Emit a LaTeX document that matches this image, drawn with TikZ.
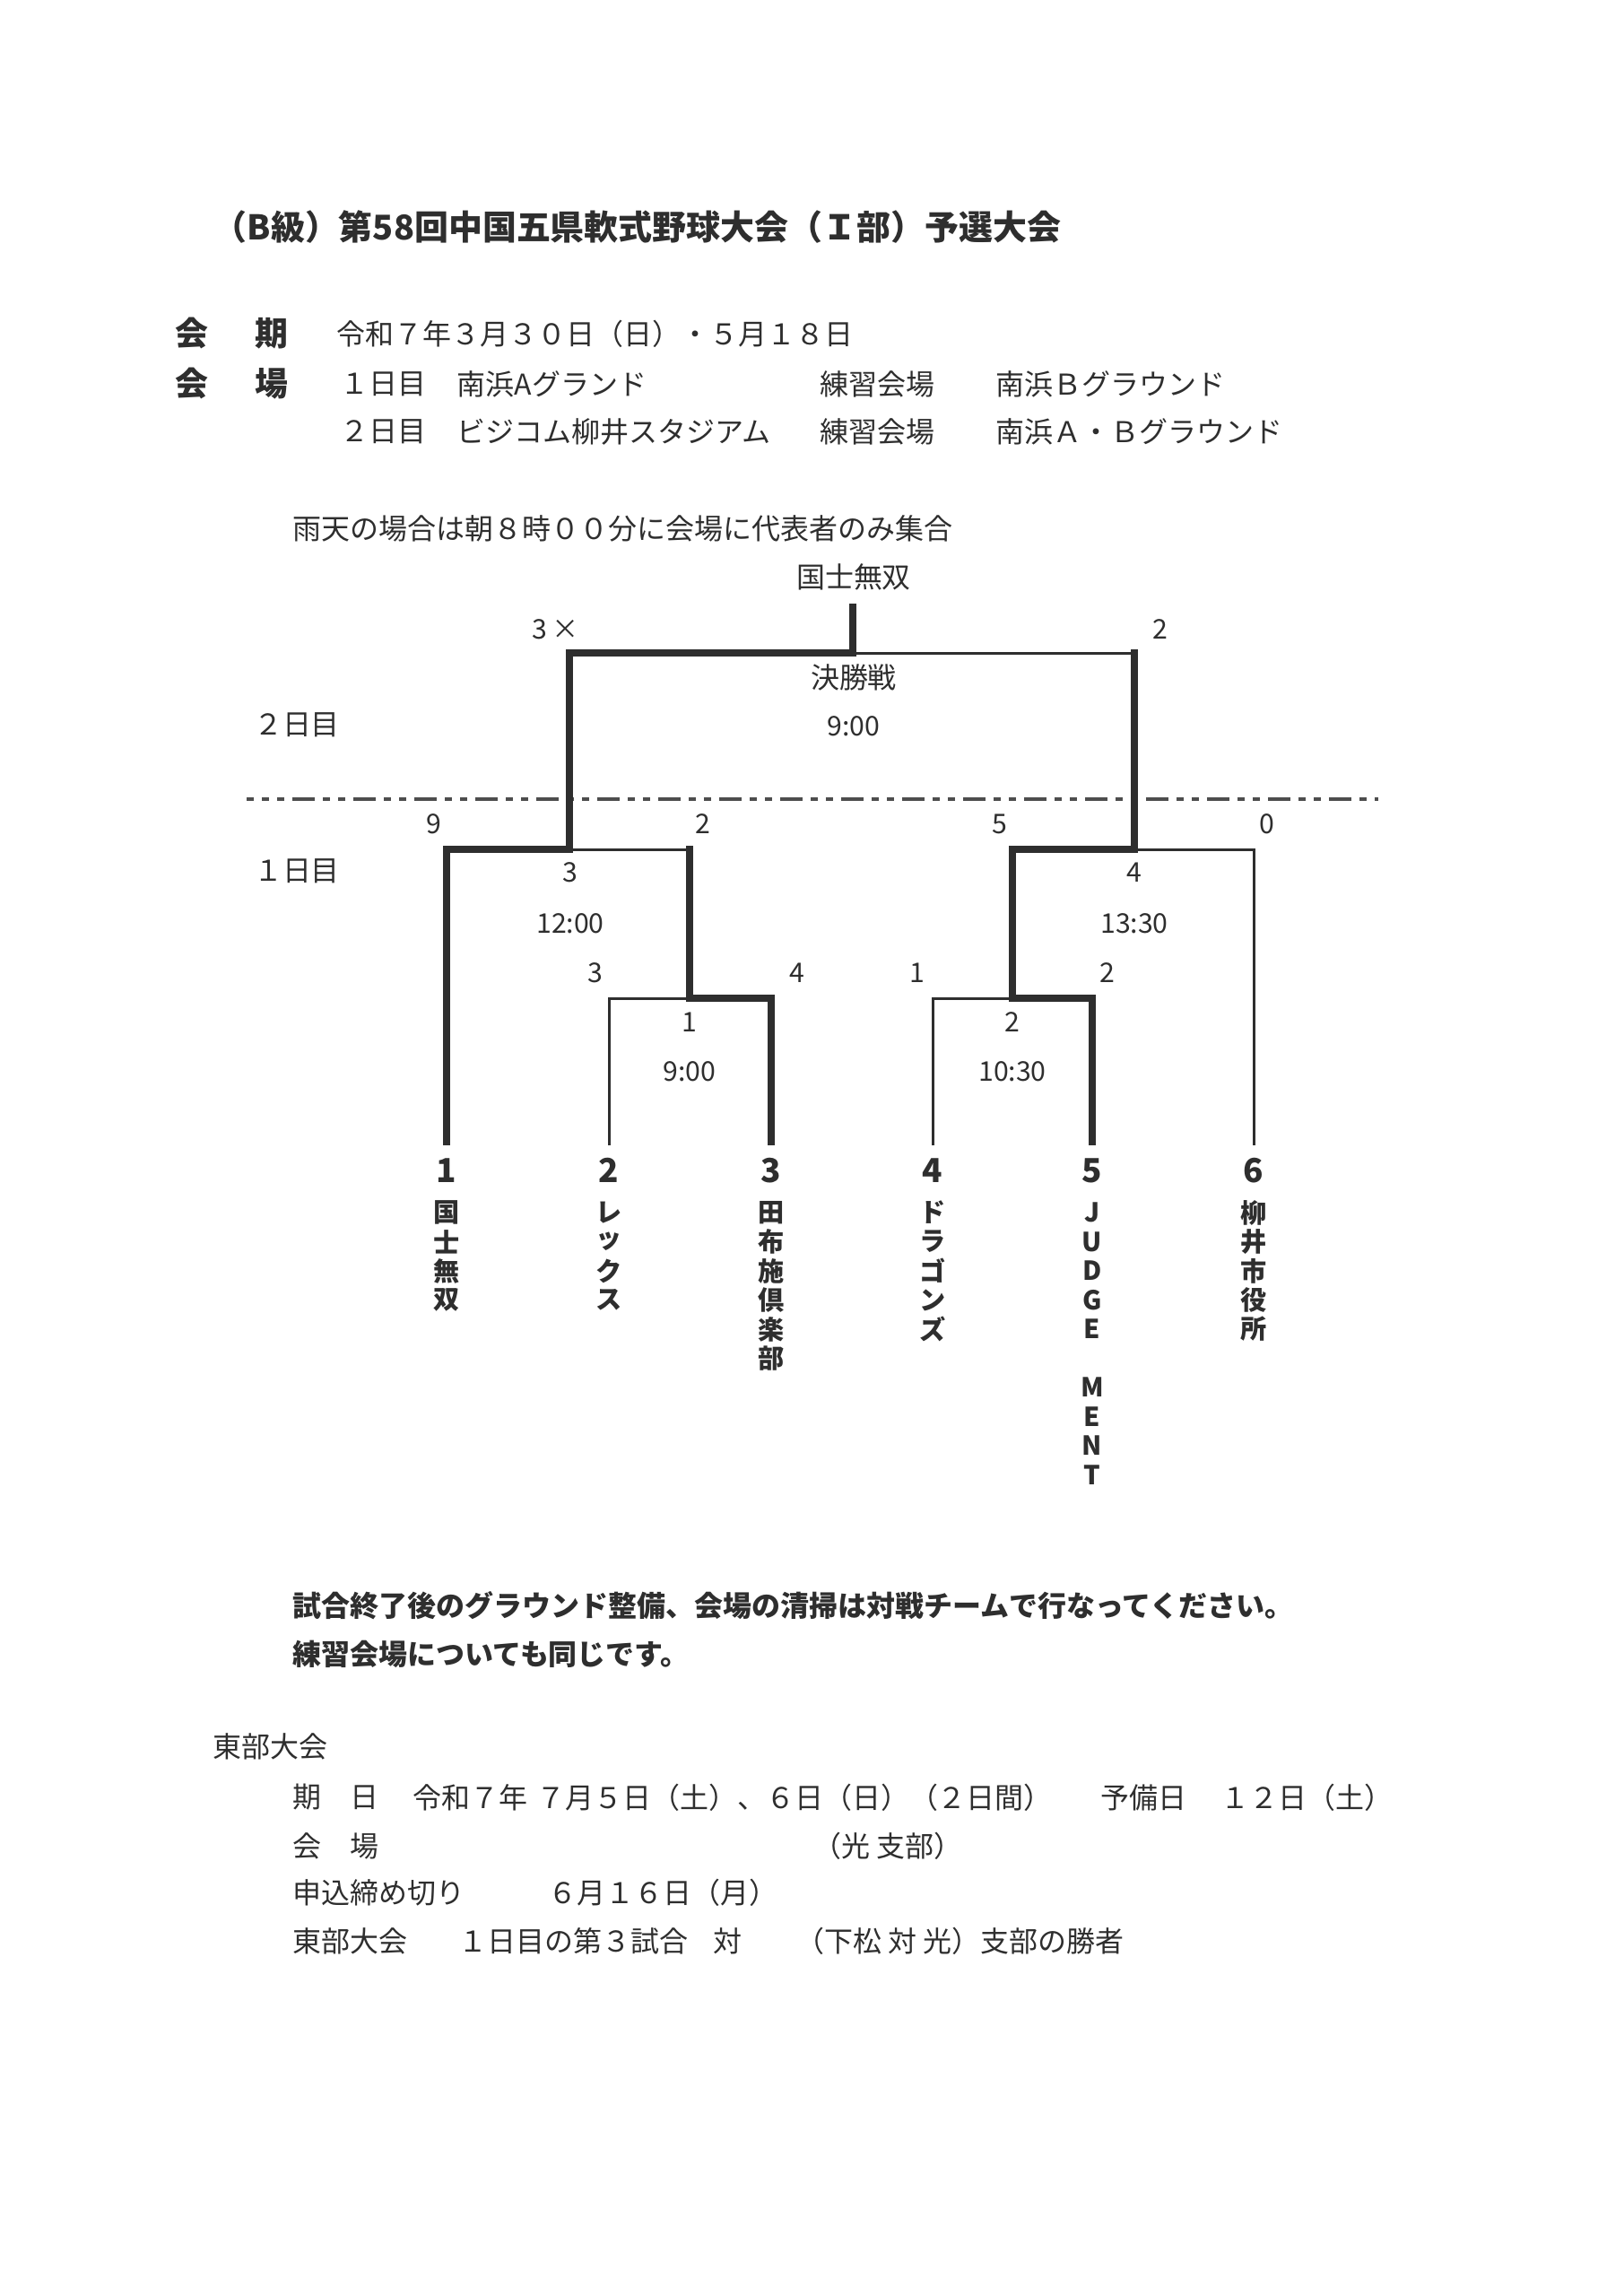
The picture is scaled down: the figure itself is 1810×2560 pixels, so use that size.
\documentclass[tikz,border=0pt]{standalone}
\usepackage{fontspec}
\setmainfont{Noto Sans CJK JP}
\definecolor{ink}{HTML}{2E2E2E}

\begin{document}
\begin{tikzpicture}[x=0.1mm, y=-0.1mm,
  every node/.style={inner sep=0pt, text=ink, font=\fontsize{9.1}{11}\selectfont},
  txt/.style={anchor=west},
  heading/.style={anchor=west, font=\fontsize{10.5}{12}\bfseries\selectfont},
  titletext/.style={anchor=west, font=\fontsize{10.8}{13}\bfseries\selectfont},
  notice/.style={anchor=west, font=\fontsize{9.1}{11}\bfseries\selectfont},
  score/.style={font=\fontsize{8.6}{10}\selectfont},
  teamno/.style={font=\fontsize{10.5}{12}\bfseries\selectfont},
  teamch/.style={font=\fontsize{8.3}{10}\bfseries\selectfont},
  winpath/.style={draw=ink, line width=0.8mm, line cap=rect},
  losspath/.style={draw=ink, line width=0.3mm},
  dayline/.style={draw=ink!85, line width=0.4mm, dash pattern=on 2.5mm off 0.9mm on 0.8mm off 0.9mm on 0.8mm off 0.9mm, dash phase=1.7mm}]
	\useasboundingbox (0,0) rectangle (1810,2560);
	\node[titletext] (title) at (237,253) {（B級）第58回中国五県軟式野球大会（Ｉ部）予選大会};
	\node[heading] (kaiki) at (195,372) {会\hspace{1.4em}期};
	\node[txt] (dates) at (375,372) {令和７年３月３０日（日）・５月１８日};
	\node[heading] (kaijo) at (195,428) {会\hspace{1.4em}場};
	\node[txt] (day1) at (379,428) {１日目};
	\node[txt] (venue1) at (509,428) {南浜Aグランド};
	\node[txt] (prac1) at (914,428) {練習会場};
	\node[txt] (pvenue1) at (1110,428) {南浜Ｂグラウンド};
	\node[txt] (day2) at (379,481) {２日目};
	\node[txt] (venue2) at (509,481) {ビジコム柳井スタジアム};
	\node[txt] (prac2) at (914,481) {練習会場};
	\node[txt] (pvenue2) at (1110,481) {南浜Ａ・Ｂグラウンド};
	\node[txt] (rain) at (326,589) {雨天の場合は朝８時００分に会場に代表者のみ集合};

	\coordinate (dl) at (275,891);
	\coordinate (dr) at (1537,891);
	\draw[dayline] (dl) -- (dr);
	\node (lday2) at (331,808) {２日目};
	\node (lday1) at (331,971) {１日目};

	\coordinate (b1) at (498,1273);
	\coordinate (b2) at (679,1277);
	\coordinate (b3) at (860,1273);
	\coordinate (b4) at (1040,1277);
	\coordinate (b5) at (1218,1273);
	\coordinate (b6) at (1398,1277);
	\coordinate (m1) at (769,1113);
	\coordinate (m2) at (1129,1113);
	\coordinate (m3) at (635,947);
	\coordinate (m4) at (1265,947);
	\coordinate (mf) at (951,728);
	\coordinate (champ) at (951,677);
	\draw[losspath] (b2) |- (m1);
	\draw[losspath] (b4) |- (m2);
	\draw[losspath] (m1 |- m3) -- (m3);
	\draw[losspath] (b6) |- (m4);
	\draw[losspath] (m4 |- mf) -- (mf);
	\draw[winpath] (b1) |- (m3) |- (mf) -- (champ);
	\draw[winpath] (b3) |- (m1) -- (m1 |- m3);
	\draw[winpath] (b5) |- (m2) |- (m4) -- (m4 |- mf);

	\node (winner) at (952,643) {国士無双};
	\node[score] (fsa) at (620,702) {3\,×};
	\node[score] (fsb) at (1294,702) {2};
	\node (fname) at (952,755) {決勝戦};
	\node[score] (ftime) at (952,810) {9:00};
	\node[score] (s3a) at (484,919) {9};
	\node[score] (s3b) at (784,919) {2};
	\node[score] (s4a) at (1115,919) {5};
	\node[score] (s4b) at (1413,919) {0};
	\node[score] (g3) at (636,973) {3};
	\node[score] (g3time) at (636,1030) {12:00};
	\node[score] (g4) at (1265,973) {4};
	\node[score] (g4time) at (1265,1030) {13:30};
	\node[score] (s1a) at (664,1085) {3};
	\node[score] (s1b) at (889,1085) {4};
	\node[score] (s2a) at (1023,1085) {1};
	\node[score] (s2b) at (1235,1085) {2};
	\node[score] (g1) at (769,1140) {1};
	\node[score] (g1time) at (769,1195) {9:00};
	\node[score] (g2) at (1129,1140) {2};
	\node[score] (g2time) at (1129,1195) {10:30};

	\foreach \i/\x/\chars in {1/498/{国,士,無,双}, 2/679/{レ,ッ,ク,ス}, 3/860/{田,布,施,倶,楽,部}, 4/1040/{ド,ラ,ゴ,ン,ズ}, 5/1218/{J,U,D,G,E,{},M,E,N,T}, 6/1398/{柳,井,市,役,所}} {
		\node[teamno] (t\i) at (\x,1305) {\i};
		\foreach \c [count=\k] in \chars
			\node[teamch] (t\i c\k) at (\x,1352+32.5*\k-32.5) {\c};
	}

	\node[notice] (note1) at (326,1790) {試合終了後のグラウンド整備、会場の清掃は対戦チームで行なってください。};
	\node[notice] (note2) at (326,1844) {練習会場についても同じです。};

	\node[txt] (east) at (237,1947) {東部大会};
	\node[txt] (ekiki) at (326,2004) {期　日};
	\node[txt] (edates) at (460,2004) {令和７年\hspace{0.3em}７月５日（土）、６日（日）（２日間）};
	\node[txt] (ereserve) at (1227,2004) {予備日};
	\node[txt] (ereserved) at (1361,2004) {１２日（土）};
	\node[txt] (ekaijo) at (326,2058) {会　場};
	\node[txt] (evenue) at (906,2058) {（光 支部）};
	\node[txt] (edead) at (326,2110) {申込締め切り};
	\node[txt] (edeadd) at (611,2110) {６月１６日（月）};
	\node[txt] (emeet) at (326,2164) {東部大会};
	\node[txt] (emeetg) at (511,2164) {１日目の第３試合};
	\node[txt] (emeetv) at (795,2164) {対};
	\node[txt] (emeetw) at (887,2164) {（下松 対 光）支部の勝者};
\end{tikzpicture}
\end{document}
